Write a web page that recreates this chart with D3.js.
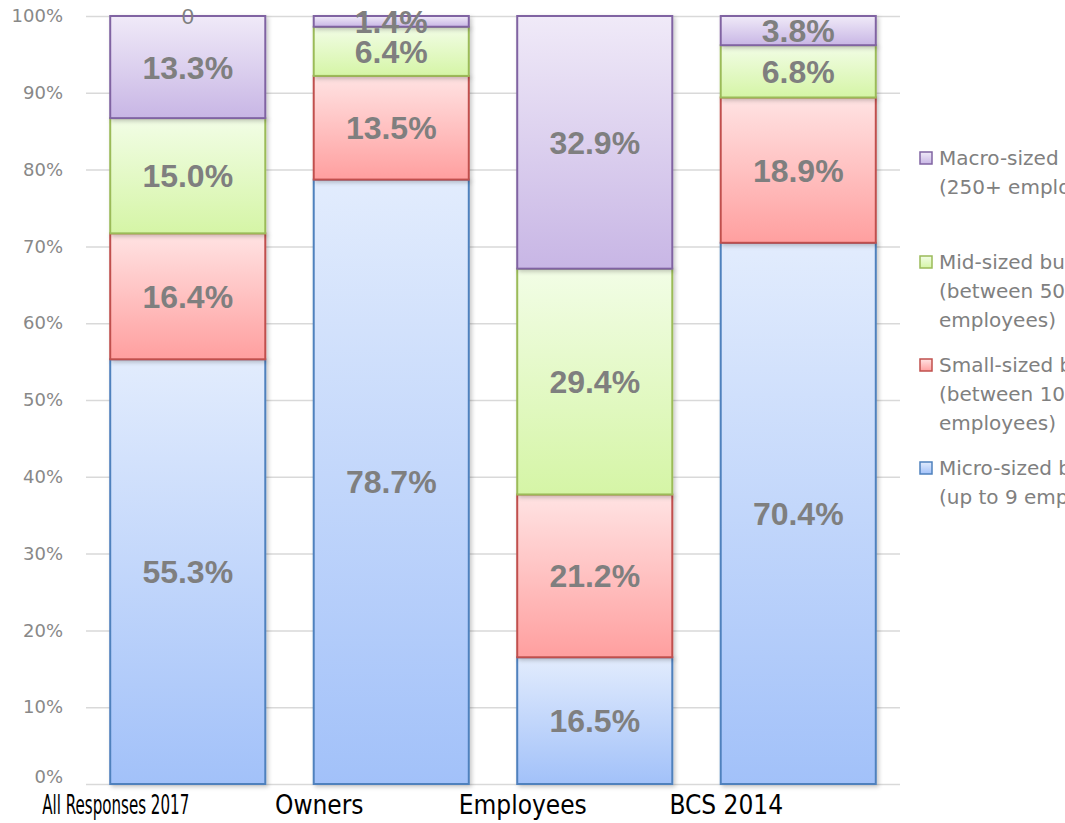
<!DOCTYPE html>
<html>
<head>
<meta charset="utf-8">
<script src="https://cdn.jsdelivr.net/npm/d3@7"></script>
<style>
  body { margin: 0; background: #fff; }
  svg { display: block; }
</style>
</head>
<body>
<svg id="chart" width="1065" height="823"></svg>
<script>
// chart values
var categories = ["All Responses 2017", "Owners", "Employees", "BCS 2014"];
var micro = [55.3, 78.7, 16.5, 70.4];
var small = [16.4, 13.5, 21.2, 18.9];
var mid = [15.0, 6.4, 29.4, 6.8];
var macro = [13.3, 1.4, 32.9, 3.8];
var zeroLabels = ["0", null, null, null];
var yTicks = [0, 10, 20, 30, 40, 50, 60, 70, 80, 90, 100];
var seriesKeys = ["micro", "small", "mid", "macro"];
var legendLines = {
    macro: ["Macro-sized businesses", "(250+ employees)"],
    mid: ["Mid-sized businesses", "(between 50 and 249", "employees)"],
    small: ["Small-sized businesses", "(between 10 and 49", "employees)"],
    micro: ["Micro-sized businesses", "(up to 9 employees)"]
};

var palette = {
    micro: { top: "#e2ecfd", bottom: "#a2c1f9", stroke: "#4f81bd" },
    small: { top: "#ffe3e3", bottom: "#ff9f9f", stroke: "#c0504d" },
    mid: { top: "#f2fde6", bottom: "#d5f5a6", stroke: "#9bbb59" },
    macro: { top: "#f0eaf8", bottom: "#c8b6e5", stroke: "#8064a2" }
};

var rows = categories.map(function (c, i) {
    return { cat: c, micro: micro[i], small: small[i], mid: mid[i], macro: macro[i] };
});

var svg = d3.select("#chart");
var plotLeft = 86, plotRight = 900, plotTop = 16, plotBottom = 784;

var x = d3.scaleBand().domain(categories).range([plotLeft, plotRight]).paddingInner(0.238).paddingOuter(0.119);
var y = d3.scaleLinear().domain([0, 1]).range([plotBottom, plotTop]);

var stacked = d3.stack().keys(seriesKeys).offset(d3.stackOffsetExpand)(rows);

var defs = svg.append("defs");
seriesKeys.forEach(function (k) {
    var g = defs.append("linearGradient").attr("id", "grad-" + k)
        .attr("x1", 0).attr("y1", 0).attr("x2", 0).attr("y2", 1);
    g.append("stop").attr("offset", "0%").attr("stop-color", palette[k].top);
    g.append("stop").attr("offset", "100%").attr("stop-color", palette[k].bottom);
});
var shadow = defs.append("filter").attr("id", "shadow")
    .attr("x", "-10%").attr("y", "-10%").attr("width", "130%").attr("height", "130%");
shadow.append("feDropShadow").attr("dx", 2).attr("dy", 2).attr("stdDeviation", 2)
    .attr("flood-color", "#000").attr("flood-opacity", 0.22);

// y axis + gridlines
var yAxis = d3.axisLeft(d3.scaleLinear().domain([0, 100]).range([plotBottom, plotTop]))
    .tickValues(yTicks)
    .tickFormat(function (d) { return d + "%"; })
    .tickSize(-(plotRight - plotLeft))
    .tickPadding(23);
var yg = svg.append("g").attr("transform", "translate(" + plotLeft + ",0)").call(yAxis);
yg.select(".domain").remove();
yg.selectAll(".tick line").attr("stroke", "#d9d9d9").attr("stroke-width", 1.5);
yg.selectAll(".tick text")
    .attr("fill", "#888")
    .style("font-family", "'DejaVu Sans', sans-serif")
    .style("font-size", "18px");
yg.selectAll(".tick text").filter(function (d) { return d === 0; }).attr("dy", "-0.1em");

// bars
var layers = svg.append("g").selectAll("g").data(stacked).enter().append("g")
    .attr("filter", "url(#shadow)");
layers.selectAll("rect").data(function (s) {
    return s.map(function (d) { return { key: s.key, d: d }; });
}).enter().append("rect")
    .attr("x", function (e) { return x(e.d.data.cat); })
    .attr("width", x.bandwidth())
    .attr("y", function (e) { return y(e.d[1]); })
    .attr("height", function (e) { return y(e.d[0]) - y(e.d[1]); })
    .attr("fill", function (e) { return "url(#grad-" + e.key + ")"; })
    .attr("stroke", function (e) { return palette[e.key].stroke; })
    .attr("stroke-width", 2);

// data labels
var labels = svg.append("g");
stacked.forEach(function (s) {
    s.forEach(function (d, i) {
        var raw = rows[i][s.key];
        labels.append("text")
            .attr("x", x(d.data.cat) + x.bandwidth() / 2)
            .attr("y", y((d[0] + d[1]) / 2))
            .attr("dy", "0.36em")
            .attr("text-anchor", "middle")
            .attr("fill", "#7f7f7f")
            .style("font-family", "'Liberation Sans', Arial, sans-serif")
            .style("font-weight", "bold")
            .style("font-size", "32px")
            .text(raw.toFixed(1) + "%");
    });
});
zeroLabels.forEach(function (t, i) {
    if (t === null) return;
    labels.append("text")
        .attr("x", x(categories[i]) + x.bandwidth() / 2)
        .attr("y", y(1))
        .attr("dy", "0.36em")
        .attr("text-anchor", "middle")
        .attr("fill", "#7f7f7f")
        .style("font-family", "'Liberation Sans', Arial, sans-serif")
        .style("font-size", "22px")
        .text(t);
});

// category labels; long ones get squeezed sideways to fit, like the source
var maxLabelWidth = 147;
var xg = svg.append("g");
categories.forEach(function (c) {
    var cx = x(c) + x.bandwidth() / 2 - 72;
    var t = xg.append("text")
        .attr("text-anchor", "middle")
        .attr("fill", "#000")
        .style("font-family", "'DejaVu Sans Condensed', 'DejaVu Sans', sans-serif")
        .style("font-size", "26px")
        .text(c);
    var len = t.node().getComputedTextLength();
    var sx = len > maxLabelWidth ? maxLabelWidth / len : 1;
    t.attr("transform", "translate(" + cx + "," + (plotBottom + 30) + ") scale(" + sx + ",1)");
});

// legend
var legendY = { macro: 158, mid: 262, small: 365, micro: 468 };
var lg = svg.append("g");
["macro", "mid", "small", "micro"].forEach(function (k) {
    var ly = legendY[k];
    lg.append("rect")
        .attr("x", 920).attr("y", ly - 6)
        .attr("width", 12).attr("height", 12)
        .attr("fill", "url(#grad-" + k + ")")
        .attr("stroke", palette[k].stroke)
        .attr("stroke-width", 1.5);
    legendLines[k].forEach(function (line, j) {
        lg.append("text")
            .attr("x", 939)
            .attr("y", ly + j * 29)
            .attr("dy", "0.35em")
            .attr("fill", "#808080")
            .style("font-family", "'DejaVu Sans', sans-serif")
            .style("font-size", "20px")
            .text(line);
    });
});
</script>
</body>
</html>
